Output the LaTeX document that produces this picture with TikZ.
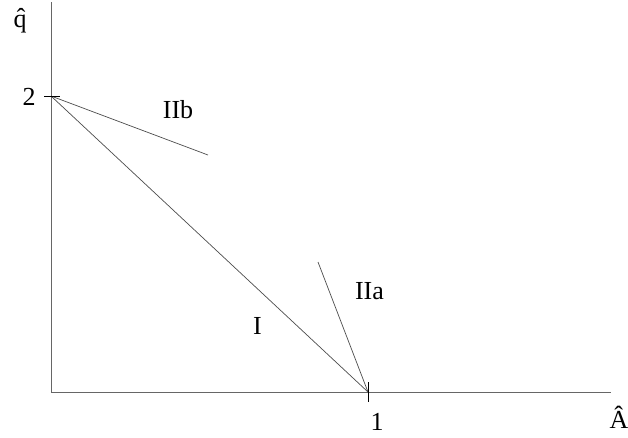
\documentclass[tikz,border=0pt]{standalone}
\usepackage{fontspec}
\setmainfont{Liberation Serif}
\begin{document}
\begin{tikzpicture}[x=1pt,y=-1pt,
  axis/.style={draw=black!60,line width=0.8pt},
  curve/.style={draw=black!70,line width=0.7pt},
  tick/.style={draw=black,line width=0.9pt},
  lbl/.style={font=\fontsize{26}{30}\selectfont,inner sep=0pt,anchor=base}]
\useasboundingbox (0,0) rectangle (628,437);
\coordinate (O) at (51,392);
\coordinate (Ytop) at (51,2);
\coordinate (Xend) at (611,392);
\coordinate (P2) at (51,96);
\coordinate (P1) at (368,392);
\coordinate (Bend) at (208,155);
\coordinate (Atop) at (318,262);
\coordinate (t2a) at (44,96);
\coordinate (t2b) at (60,96);
\coordinate (t1a) at (368,382);
\coordinate (t1b) at (368,402);
\draw[axis] (Ytop) -- (O) -- (Xend);
\draw[curve] (P2) -- (P1);
\draw[curve] (P2) -- (Bend);
\draw[curve] (Atop) -- (P1);
\draw[tick] (t2a) -- (t2b);
\draw[tick] (t1a) -- (t1b);
\node[lbl] (qlab) at (20,27) {\^{q}};
\node[lbl] (alab) at (619,428) {\^{A}};
\node[lbl] (two) at (29,105) {2};
\node[lbl] (one) at (377,430) {1};
\node[lbl] (iib) at (178,118) {IIb};
\node[lbl] (iia) at (369.5,299) {IIa};
\node[lbl] (i) at (257.5,334) {I};
\end{tikzpicture}
\end{document}
